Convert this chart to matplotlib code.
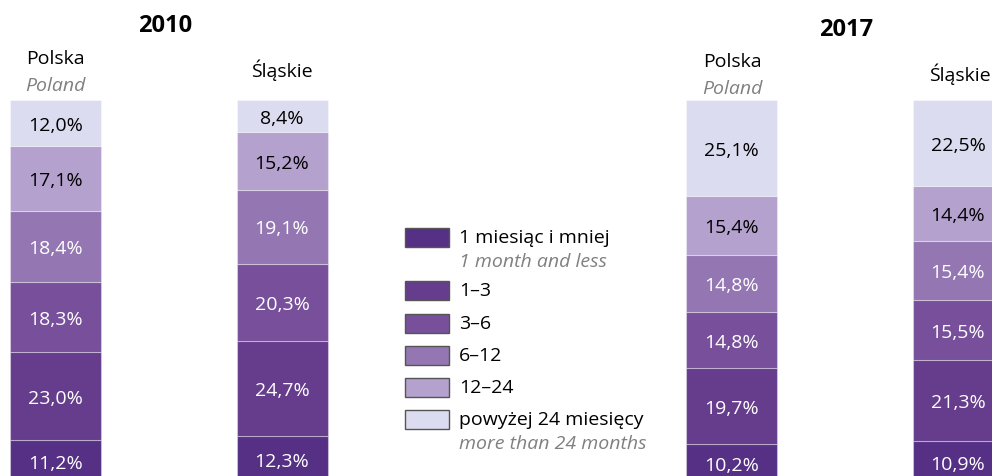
import matplotlib.pyplot as plt
from matplotlib.patches import Rectangle

plt.rcParams["font.family"] = ["Open Sans", "DejaVu Sans"]

# dane: udział bezrobotnych wg czasu pozostawania bez pracy (od dołu słupka)
categories = ["1 miesiąc i mniej", "1–3", "3–6", "6–12", "12–24", "powyżej 24 miesięcy"]
categories_en = ["1 month and less", None, None, None, None, "more than 24 months"]
polska_2010 = [11.2, 23.0, 18.3, 18.4, 17.1, 12.0]
slaskie_2010 = [12.3, 24.7, 20.3, 19.1, 15.2, 8.4]
polska_2017 = [10.2, 19.7, 14.8, 14.8, 15.4, 25.1]
slaskie_2017 = [10.9, 21.3, 15.5, 15.4, 14.4, 22.5]

colors = ["#553084", "#663d8c", "#774f9b", "#9477b2", "#b4a1cd", "#dcdcf0"]
text_colors = ["white", "white", "white", "white", "black", "black"]

W, H = 992, 477
PX = 3.83          # pikseli na 1 p.p.
TOP = 101          # górna krawędź słupków (px od góry)
FS = 14

fig = plt.figure(figsize=(W / 100, H / 100), dpi=100)

# oś słupków w procentach
ax = fig.add_axes([0, 0, 1, 1])
ax.set_xlim(0, W)
ax.set_ylim(100 - (H - TOP) / PX, 100 + TOP / PX)
ax.axis("off")

# oś pomocnicza w pikselach na napisy i legendę
lay = fig.add_axes([0, 0, 1, 1], facecolor="none")
lay.set_xlim(0, W)
lay.set_ylim(H, 0)
lay.axis("off")

bars = [
    (55.5, polska_2010),
    (282, slaskie_2010),
    (731.5, polska_2017),
    (958, slaskie_2017),
]
bar_w = 91

for xc, vals in bars:
    bottom = 0
    for i, v in enumerate(vals):
        ax.bar(xc, v, bottom=bottom, width=bar_w, color=colors[i],
               edgecolor=(1, 1, 1, 0.35), linewidth=0.8)
        ax.text(xc, bottom + v / 2 - 0.4, f"{v:.1f}%".replace(".", ","),
                ha="center", va="center", fontsize=FS, color=text_colors[i])
        bottom += v

# nagłówki
lay.text(165, 32, "2010", ha="center", va="baseline", fontsize=17, fontweight="bold")
lay.text(846, 36, "2017", ha="center", va="baseline", fontsize=17, fontweight="bold")
lay.text(55, 64, "Polska", ha="center", va="baseline", fontsize=FS)
lay.text(55, 91, "Poland", ha="center", va="baseline", fontsize=FS,
         style="italic", color="#808080")
lay.text(282, 77, "Śląskie", ha="center", va="baseline", fontsize=FS)
lay.text(732, 67, "Polska", ha="center", va="baseline", fontsize=FS)
lay.text(732, 94, "Poland", ha="center", va="baseline", fontsize=FS,
         style="italic", color="#808080")
lay.text(960, 81, "Śląskie", ha="center", va="baseline", fontsize=FS)

# legenda
rows_y = [238.5, 291, 324, 356, 388, 420]
for i, name in enumerate(categories):
    y = rows_y[i]
    lay.add_patch(Rectangle((405, y - 9.5), 44, 19, facecolor=colors[i],
                            edgecolor="#555555", linewidth=1))
    lay.text(459, y, name, ha="left", va="center", fontsize=FS)
    if categories_en[i]:
        lay.text(459, y + 24, categories_en[i], ha="left", va="center",
                 fontsize=FS, style="italic", color="#808080")

fig.savefig("out.png", dpi=100)
